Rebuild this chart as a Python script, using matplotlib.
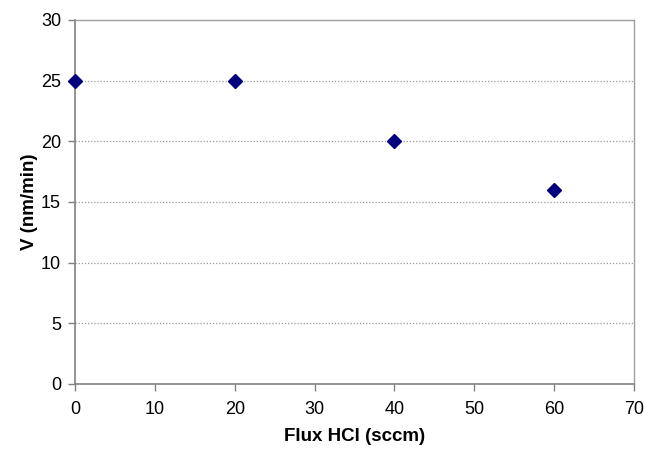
import matplotlib
matplotlib.use("Agg")
import matplotlib.pyplot as plt

flux = [0, 20, 40, 60]
velocity = [25, 25, 20, 16]
x_ticks = [0, 10, 20, 30, 40, 50, 60, 70]
y_ticks = [0, 5, 10, 15, 20, 25, 30]

plt.rcParams['font.family'] = ['Liberation Sans', 'DejaVu Sans']

fig = plt.figure(figsize=(6.45, 4.55), dpi=100)
ax = fig.add_axes([75/645, 1-384/455, (634-75)/645, (384-20)/455])

for y in y_ticks[1:-1]:
    ax.axhline(y, color='#9a9a9a', linestyle=(0, (1, 1.5)), linewidth=0.9, zorder=1)

ax.plot(flux, velocity, linestyle='none', marker='D', markersize=7.4,
        color='#000080', clip_on=False, zorder=3)

ax.set_xlim(0, 70)
ax.set_ylim(0, 30)
ax.set_xticks(x_ticks)
ax.set_yticks(y_ticks)

for s in ['left', 'bottom']:
    ax.spines[s].set_color('#808080')
    ax.spines[s].set_linewidth(1.2)
for s in ['top', 'right']:
    ax.spines[s].set_color('#a0a0a0')
    ax.spines[s].set_linewidth(1.0)

ax.tick_params(axis='both', direction='out', length=5, width=1, color='#808080',
               labelsize=13, labelcolor='black', pad=7)
ax.tick_params(axis='y', pad=5)

ax.set_xlabel('Flux HCl (sccm)', fontsize=13.5, fontweight='bold', labelpad=7.5)
ax.set_ylabel('V (nm/min)', fontsize=13.5, fontweight='bold', labelpad=2)

fig.savefig('out.png', dpi=100, facecolor='white')
